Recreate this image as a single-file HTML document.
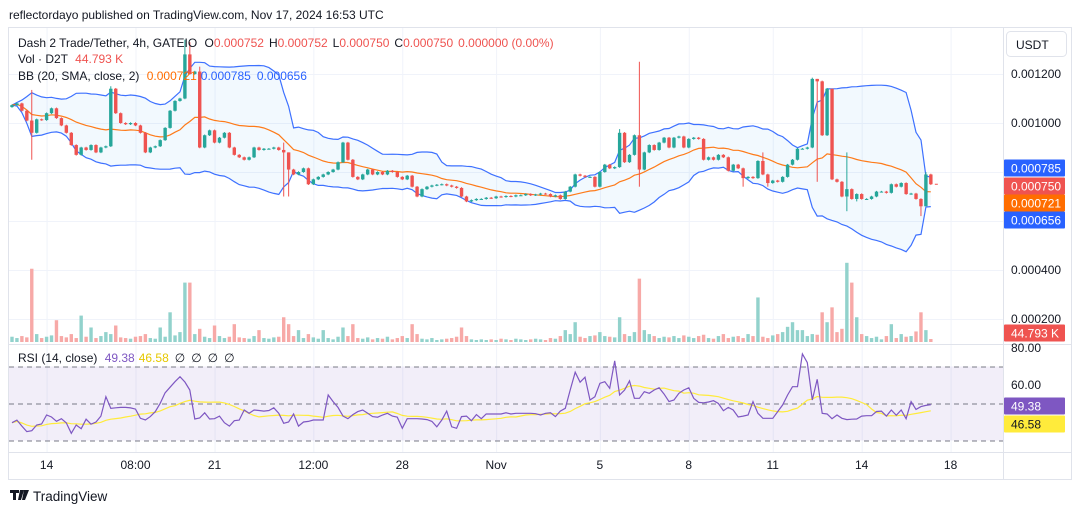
<!DOCTYPE html>
<html><head><meta charset="utf-8">
<style>
html,body{margin:0;padding:0;background:#fff;width:1080px;height:515px;overflow:hidden;font-family:"Liberation Sans",sans-serif;}
svg text{font-family:"Liberation Sans",sans-serif;}
</style></head>
<body>
<svg id="chart" width="1080" height="515" viewBox="0 0 1080 515" xmlns="http://www.w3.org/2000/svg">
  <defs>
    <clipPath id="mainClip"><rect x="9" y="28" width="994" height="316"/></clipPath>
    <clipPath id="rsiClip"><rect x="9" y="345" width="994" height="107"/></clipPath>
  </defs>
  <text x="9" y="19" font-size="12" fill="#131722">reflectordayo published on TradingView.com, Nov 17, 2024 16:53 UTC</text>
  <rect x="8.5" y="27.5" width="1063" height="452" fill="#fff" stroke="#e0e3eb"/>
  <g id="grid"></g>
  <g clip-path="url(#mainClip)">
    <g id="bb"></g>
    <g id="vol"></g>
    <g id="candles"></g>
  </g>
  <g id="rsi" clip-path="url(#rsiClip)"></g>
  <line x1="9" y1="344.5" x2="1071" y2="344.5" stroke="#e0e3eb"/>
  <line x1="9" y1="452.5" x2="1071" y2="452.5" stroke="#e0e3eb"/>
  <line x1="1003.5" y1="28" x2="1003.5" y2="479" stroke="#e0e3eb"/>
  <g id="axes"></g>
  <g font-size="12">
    <text x="18" y="47" fill="#131722">Dash 2 Trade/Tether, 4h, GATEIO <tspan dx="4">O</tspan><tspan fill="#ef5350">0.000752</tspan><tspan dx="5">H</tspan><tspan fill="#ef5350">0.000752</tspan><tspan dx="5">L</tspan><tspan fill="#ef5350">0.000750</tspan><tspan dx="5">C</tspan><tspan fill="#ef5350">0.000750</tspan><tspan dx="5" fill="#ef5350">0.000000 (0.00%)</tspan></text>
    <text x="18" y="63" fill="#131722">Vol · D2T <tspan dx="4" fill="#ef5350">44.793 K</tspan></text>
    <text x="18" y="80" fill="#131722">BB (20, SMA, close, 2) <tspan dx="4" fill="#ff6d00">0.000721</tspan><tspan dx="4" fill="#2962ff">0.000785</tspan><tspan dx="6" fill="#2962ff">0.000656</tspan></text>
    <text x="18" y="362" fill="#131722">RSI (14, close) <tspan dx="4" fill="#7e57c2">49.38</tspan><tspan dx="4" fill="#e6c800">46.58</tspan><tspan dx="6">∅</tspan><tspan dx="6">∅</tspan><tspan dx="6">∅</tspan><tspan dx="6">∅</tspan></text>
  </g>
  <rect x="1006.5" y="31.5" width="60" height="25" rx="4" fill="#fff" stroke="#e0e3eb"/>
  <text x="1016" y="49" font-size="12" fill="#131722">USDT</text>
  <g>
    <path d="M10 490h9v3h-3v7h-3v-7h-3z M20 490h4l-3 10h-3z M21 490h1a2 2 0 0 1 0 3h-1z M24 490h5l-4 10h-3z" fill="#131722"/>
    <text x="33" y="501" font-size="13.5" fill="#131722">TradingView</text>
  </g>
</svg>
<script>
// ---- data ----
const closes=[1073,1080,1050,1010,960,1015,1012,1040,1060,1020,
990,960,910,870,900,890,910,880,900,905,
1140,1040,1000,995,1000,990,960,880,900,905,
930,980,1050,1090,1100,1280,1200,1210,900,950,
970,920,940,960,900,870,860,850,860,900,
890,895,895,900,890,880,810,790,800,815,
750,770,780,790,800,810,840,920,850,780,
770,790,810,790,800,790,805,800,780,770,
785,740,700,730,740,745,748,750,745,740,
735,700,680,685,690,690,695,693,700,698,
702,700,705,705,710,705,708,712,710,700,
705,690,720,740,790,785,780,780,740,800,
830,815,820,960,840,870,950,810,880,910,
890,920,940,900,940,945,900,935,940,935,
850,860,850,870,860,805,830,815,775,780,
775,845,790,755,765,760,780,830,850,895,
895,900,1180,1170,950,1140,770,760,700,730,
690,710,690,690,700,720,720,715,750,740,
755,710,712,690,660,790,750];
const firstOpen=1065;
const wickHigh={4:1135,20:1150,35:1340,36:1330,38:1230,55:920,56:880,123:975,127:1250,152:880,162:1185,163:1180,166:1085,169:880,185:800};
const wickLow={4:850,55:700,56:700,127:740,148:740,153:740,163:760,169:640,171:680,184:620,185:700};
const volumes=[80,60,90,70,1110,120,60,80,100,330,
90,70,120,60,400,80,220,60,90,150,
120,250,70,60,50,80,90,120,60,50,
220,80,450,100,150,900,900,120,200,80,
60,250,90,60,80,270,70,60,50,90,
180,60,50,70,80,375,270,90,180,60,
120,70,50,180,60,40,80,220,90,270,
60,50,70,40,60,50,80,40,60,90,
60,270,120,50,40,60,30,40,50,60,
80,220,90,40,30,40,30,40,30,50,
40,30,50,40,30,40,50,40,30,60,
50,90,180,120,300,80,60,90,100,150,
90,80,70,375,120,90,150,960,180,120,
90,60,80,70,90,60,100,80,60,90,
110,60,50,90,120,60,80,90,60,120,
90,675,80,60,100,120,150,230,300,180,
180,90,120,110,450,300,525,150,200,1200,
900,375,120,90,60,80,40,90,270,60,
120,80,90,160,450,180,45];
const rsiValues=[39.6,41,37.8,34.8,35.3,38.4,38.9,43.8,42.7,40.4,
41.8,39.5,33.9,38.4,36.4,41.5,38.8,40,43.2,53.7,
47.4,47.7,47.9,47.9,47.6,47,42,41.1,42.9,45.6,
50.1,55.8,58.8,61.8,64.5,61.6,57.3,41.6,42.2,45,
41.6,41.8,43.2,39.6,37.8,40.7,41,46.5,44.7,46.5,
46.2,45.9,46.2,47.7,44.7,39.3,40,44.3,37.8,40,
40.3,41.1,41.1,41.1,54.6,51,47.9,43.2,41.8,44,
45.6,46.5,44.7,42.9,42.6,43.8,44.7,43.2,42.6,36.6,
41.8,41.8,41.8,41.6,41.3,40.3,37.4,41.1,45.9,37.4,
36.6,42.9,43.2,40.7,44,41.8,44.3,44.3,44.3,44.3,
45,44.3,44.7,44.7,44.7,44.7,44.5,43.8,44.7,45,
42.9,45.9,47.4,57.3,66.9,61.5,64.2,51.9,53.7,60.9,
61.8,58.2,73.1,54.6,57.3,62.2,52.8,52.8,56.4,55.5,
57.3,58.5,55.1,51,51.9,55.5,57.3,58.5,52.8,50.6,
50.4,50.8,51.5,50,46.1,47.9,46.5,42.7,43.2,43.8,
51,44.7,42,42,42,45.6,49.2,54.6,59.1,59.1,
76.8,72.1,51.9,63.1,44.7,44.3,41.8,43.8,42,41.3,
41.5,41.6,43.2,43.4,43.4,45.7,45.9,43.2,46.5,43.6,
46.5,41.8,51,46.8,48.3,49,49.38];
const priceTicks=[1200,1000,800,600,400,200];
const priceTickLabels=["0.001200","0.001000","","","0.000400","0.000200"];
const timeLabels=["14","08:00","21","12:00","28","Nov","5","8","11","14","18"];
const timeIdx=[7,25,41,61,79,98,119,137,154,172,190];
const rsiLevels=[80,60];

// ---- scales ----
const NS="http://www.w3.org/2000/svg";
const X=i=>12+i*4.94;
const Y=p=>74+(1200-p)*0.245;
const VY=v=>342-v*0.066;
const RY=r=>403.5-(r-50)*1.85;
function mk(tag,attrs,parent){const e=document.createElementNS(NS,tag);for(const k in attrs)e.setAttribute(k,attrs[k]);parent.appendChild(e);return e;}
const $=id=>document.getElementById(id);
const G="#26a69a",R="#ef5350";

// grid
priceTicks.forEach(p=>{const l=mk('line',{x1:9,x2:1003,y1:Y(p)+.5,y2:Y(p)+.5,stroke:'#f0f3fa'},$('grid'));

});
timeIdx.forEach(i=>{const l=mk('line',{x1:X(i)+.5,x2:X(i)+.5,y1:28,y2:452,stroke:'#f0f3fa'},$('grid'));

});

// OHLC
const opens=closes.map((c,i)=>i?closes[i-1]:firstOpen);
// bollinger
const mid=[],up=[],lo=[];
closes.forEach((c,i)=>{const w=closes.slice(Math.max(0,i-19),i+1);const m=w.reduce((a,b)=>a+b,0)/w.length;
const sd=Math.sqrt(w.reduce((a,b)=>a+(b-m)*(b-m),0)/w.length);mid.push(m);up.push(m+2*sd);lo.push(m-2*sd);});
const pts=a=>a.map((v,i)=>X(i).toFixed(1)+','+Y(v).toFixed(1));
const fill=mk('polygon',{points:pts(up).concat(pts(lo).reverse()).join(' '),fill:'#2196f3','fill-opacity':'0.06'},$('bb'));


[[up,'#2962ff','bb-upper'],[lo,'#2962ff','bb-lower'],[mid,'#ff6d00','bb-basis']].forEach(([a,c,n])=>{
const l=mk('polyline',{points:pts(a).join(' '),fill:'none',stroke:c,'stroke-width':1.2,'stroke-opacity':0.9},$('bb'));

});

// volume
volumes.forEach((v,i)=>{const g=closes[i]>=opens[i];
const b=mk('rect',{x:X(i)-1.7,y:VY(v),width:3.4,height:342-VY(v),fill:g?'#92d2cc':'#f7a9a7'},$('vol'));

});

// candles
closes.forEach((c,i)=>{const o=opens[i],g=c>=o,col=g?G:R;
const hi=wickHigh[i]!==undefined?wickHigh[i]:Math.max(o,c)+3,lw=wickLow[i]!==undefined?wickLow[i]:Math.min(o,c)-3;
const w=mk('line',{x1:X(i),x2:X(i),y1:Y(hi),y2:Y(lw),stroke:col,'stroke-width':1},$('candles'));


const t=Y(Math.max(o,c)),h=Math.max(1,Y(Math.min(o,c))-t);
const b=mk('rect',{x:X(i)-1.7,y:t,width:3.4,height:h,fill:col},$('candles'));

});
const pl=mk('line',{x1:X(closes.length-1)+4,x2:X(closes.length+1),y1:Y(750),y2:Y(750),stroke:R,'stroke-dasharray':'3 3'},$('candles'));



// RSI
const rma=rsiValues.map((v,i)=>{const w=rsiValues.slice(Math.max(0,i-13),i+1);return w.reduce((a,b)=>a+b,0)/w.length;});
const rp=$('rsi');
const band=mk('rect',{x:9,y:RY(70),width:994,height:RY(30)-RY(70),fill:'#7e57c2','fill-opacity':0.1},rp);


[70,50,30].forEach(l=>{const e=mk('line',{x1:9,x2:1003,y1:RY(l)+.5,y2:RY(l)+.5,stroke:'#787b86','stroke-dasharray':'5 4'},rp);

});
const ml=mk('polyline',{points:rma.map((v,i)=>X(i).toFixed(1)+','+RY(v).toFixed(1)).join(' '),fill:'none',stroke:'#ffeb3b','stroke-width':1.2},rp);


const rl=mk('polyline',{points:rsiValues.map((v,i)=>X(i).toFixed(1)+','+RY(v).toFixed(1)).join(' '),fill:'none',stroke:'#7e57c2','stroke-width':1.2},rp);



// axes labels
const ax=$('axes');
priceTicks.forEach((p,k)=>{if(!priceTickLabels[k])return;const t=mk('text',{x:1011,y:Y(p)+4,'font-size':12,fill:'#131722'},ax);t.textContent=priceTickLabels[k];

});
rsiLevels.forEach(r=>{const t=mk('text',{x:1011,y:RY(r)+4,'font-size':12,fill:'#131722'},ax);t.textContent=r.toFixed(2);

});
timeLabels.forEach((s,k)=>{const t=mk('text',{x:X(timeIdx[k]),y:469,'font-size':12,fill:'#131722','text-anchor':'middle'},ax);t.textContent=s;

});
const tags=[[168,'#2962ff','#fff','0.000785','bb-upper-tag'],[186,'#ef5350','#fff','0.000750','last-price-tag'],[203,'#ff6d00','#fff','0.000721','bb-basis-tag'],[220,'#2962ff','#fff','0.000656','bb-lower-tag'],[333,'#ef5350','#fff','44.793 K','volume-tag'],[406,'#7e57c2','#fff','49.38','rsi-value-tag'],[424,'#ffeb3b','#131722','46.58','rsi-ma-tag']];
tags.forEach(([y,bg,fg,s,n])=>{const g=mk('g',{},ax);


mk('rect',{x:1004,y:y-8.5,width:61,height:17,fill:bg,rx:1},g);
const t=mk('text',{x:1011,y:y+4.5,'font-size':12,fill:fg},g);t.textContent=s;});
</script>
</body></html>
